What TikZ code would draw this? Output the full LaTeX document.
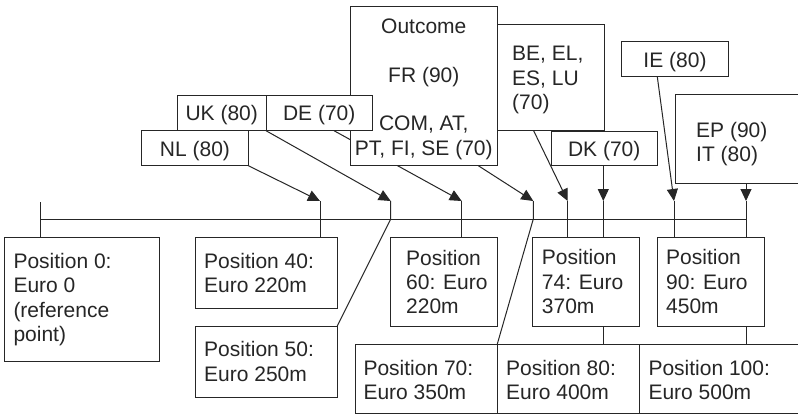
\documentclass[tikz,border=0pt]{standalone}
\usepackage{fontspec}
\setmainfont{Liberation Sans}
\usetikzlibrary{arrows.meta,calc,backgrounds}
\definecolor{ink}{HTML}{262626}
\newcommand\fl{\rule{0pt}{20pt}}
\begin{document}
\begin{tikzpicture}[x=1pt,y=-1pt,
  box/.style={draw=ink, fill=white, line width=1pt, inner sep=0pt, outer sep=0pt, anchor=north west},
  lbl/.style={text=ink, font=\fontsize{21}{24.3}\selectfont, inner sep=0pt, align=left, anchor=north west},
  clbl/.style={lbl, align=center, anchor=north},
  wire/.style={draw=ink, line width=1pt},
  arr/.style={wire, -{Triangle[length=12pt,width=11pt]}}]
\useasboundingbox (0,0) rectangle (798,415);
\clip (0,0) rectangle (798,415);

% country boxes (top)
\node[box, minimum width=106.6pt, minimum height=35pt]   (nl) at (141.7,130.7) {};
\node[box, minimum width=88.7pt,  minimum height=35.7pt] (uk) at (177.3,95) {};
\node[box, minimum width=147.7pt, minimum height=159.7pt] (oc) at (350,6) {};
\node[box, minimum width=106.3pt, minimum height=35.7pt] (de) at (266,95) {};
\node[box, minimum width=106.6pt, minimum height=105.7pt] (be) at (497.7,24.3) {};
\node[box, minimum width=106.3pt, minimum height=34.7pt] (dk) at (551,131) {};
\node[box, minimum width=106.6pt, minimum height=35pt]   (ie) at (621.7,41.7) {};
\node[box, minimum width=145pt,   minimum height=89pt]   (ep) at (675,94.3) {};

% position boxes (bottom)
\node[box, minimum width=154.8pt, minimum height=124.7pt] (p0)  at (4.7,237) {};
\node[box, minimum width=142.3pt, minimum height=71pt]    (p40) at (195,237) {};
\node[box, minimum width=142.3pt, minimum height=71.5pt]  (p50) at (195,326) {};
\node[box, minimum width=107.3pt, minimum height=88.7pt]  (p60) at (390,237.3) {};
\node[box, minimum width=106.6pt, minimum height=88.7pt]  (p74) at (532.7,237.3) {};
\node[box, minimum width=106.7pt, minimum height=88.7pt]  (p90) at (657.3,237.3) {};
\node[box, minimum width=142.3pt, minimum height=69.5pt]  (p70) at (355,344) {};
\node[box, minimum width=142pt,   minimum height=69.5pt]  (p80) at (497.3,344) {};
\node[box, minimum width=180pt,   minimum height=69.5pt]  (p100) at (639.3,344) {};

% labels
\node[clbl] (tnl) at (195,136)   {\fl NL (80)};
\node[clbl] (tuk) at (221.7,100.5) {\fl UK (80)};
\node[clbl] (tde) at (319.2,100.5) {\fl DE (70)};
\node[clbl] (toc) at (423.8,13.5) {\fl Outcome\\\mbox{}\\FR (90)\\\mbox{}\\COM, AT,\\PT, FI, SE (70)};
\node[lbl]  (tbe) at (512,40.5)  {\fl BE, EL,\\ES, LU\\(70)};
\node[clbl] (tdk) at (604.2,136) {\fl DK (70)};
\node[clbl] (tie) at (675,47)    {\fl IE (80)};
\node[lbl]  (tep) at (696,117)   {\fl EP (90)\\IT (80)};

\node[lbl] (t0)   at (13.3,248.3) {\fl Position 0:\\Euro 0\\(reference\\point)};
\node[lbl] (t40)  at (204,248.3)  {\fl Position 40:\\Euro 220m};
\node[lbl] (t50)  at (204,336.7)  {\fl Position 50:\\Euro 250m};
\node[lbl] (t60)  at (406,245)    {\fl Position\\60: Euro\\220m};
\node[lbl] (t74)  at (541.7,244.5) {\fl Position\\74: Euro\\370m};
\node[lbl] (t90)  at (666,244.5)  {\fl Position\\90: Euro\\450m};
\node[lbl] (t70)  at (363.3,355)  {\fl Position 70:\\Euro 350m};
\node[lbl] (t80)  at (506,355)    {\fl Position 80:\\Euro 400m};
\node[lbl] (t100) at (648.3,355)  {\fl Position 100:\\Euro 500m};

% junction points on the axis
\coordinate (r0)   at (40,202);
\coordinate (axL)  at (40,219);
\coordinate (axR)  at (746,219);
\coordinate (j40)  at (320,201);
\coordinate (j50)  at (390.7,201);
\coordinate (j60)  at (461.7,201);
\coordinate (j70)  at (533.3,201);
\coordinate (j74a) at (567.7,201);
\coordinate (j74b) at (603.3,201);
\coordinate (j90a) at (674,201);
\coordinate (j90b) at (746,201);

\begin{scope}[on background layer]
  \fill[white] (0,0) rectangle (798,415);
  \draw[wire] (axL) -- (axR);
  \draw[wire] (r0) -- (r0 |- p0.north);
  % NL -> 40
  \draw[arr] (nl.south east) -- (j40);
  \draw[wire] (j40) -- (j40 |- p40.north);
  % UK -> 50
  \draw[arr] (uk.south east) -- (j50);
  \draw[wire] (j50) -- (j50 |- axL) -- (p50.north east);
  % DE -> 60
  \draw[arr] ($(de.south west)+(68,0)$) -- (j60);
  \draw[wire] (j60) -- (j60 |- p60.north);
  % Outcome -> 70
  \draw[arr] ($(oc.south west)+(128.3,0)$) -- (j70);
  \draw[wire] (j70) -- (j70 |- axL) -- (p70.north east);
  % BE, EL, ES, LU -> 74
  \draw[arr] ($(be.south west)+(35.6,0)$) -- (j74a);
  \draw[wire] (j74a) -- (j74a |- p74.north);
  % DK -> 74 / 80
  \draw[arr] (j74b |- dk.south) -- (j74b);
  \draw[wire] (j74b) -- (j74b |- p74.north);
  \draw[wire] (j74b |- p74.south) -- (j74b |- p80.north);
  % IE -> 90
  \draw[arr] ($(ie.south west)+(35.6,0)$) -- (j90a);
  \draw[wire] (j90a) -- (j90a |- p90.north);
  % EP, IT -> 90 / 100
  \draw[arr] (j90b |- ep.south) -- (j90b);
  \draw[wire] (j90b) -- (j90b |- p90.north);
  \draw[wire] (j90b |- p90.south) -- (j90b |- p100.north);
\end{scope}
\end{tikzpicture}
\end{document}
